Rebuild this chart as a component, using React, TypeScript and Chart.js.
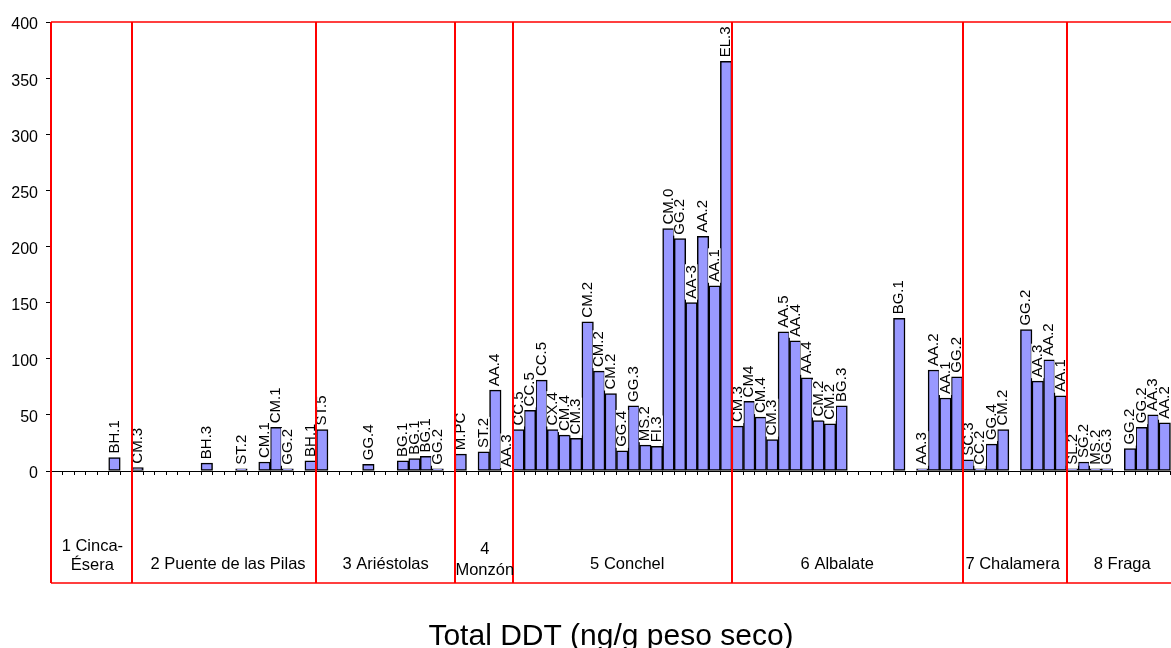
import React, { useEffect, useRef } from 'react';
import { Chart, registerables } from 'chart.js';

Chart.register(...registerables);

// ---- Data (one array pair per river section) ----
const S1_LABELS = ['', '', '', '', '', 'BH.1', ''];
const S1_VALUES = [null, null, null, null, null, 12, null];

const S2_LABELS = ['CM.3', '', '', '', '', '', 'BH.3', '', '', 'ST.2', '', 'CM.1', 'CM.1', 'GG.2', '', 'BH.1'];
const S2_VALUES = [3, null, null, null, null, null, 7, null, null, 2, null, 8, 39, 2, null, 9];

const S3_LABELS = ['ST.5', '', '', '', 'GG.4', '', '', 'BG.1', 'BG.1', 'BG.1', 'GG.2', ''];
const S3_VALUES = [37, null, null, null, 6, null, null, 9, 11, 13, 2, null];

const S4_LABELS = ['M.PC', '', 'ST.2', 'AA.4', 'AA.3'];
const S4_VALUES = [15, null, 17, 72, 0];

const S5_LABELS = ['CC.5', 'CC.5', 'CC.5', 'CX.4', 'CM.4', 'CM.3', 'CM.2', 'CM.2', 'CM.2', 'GG.4', 'GG.3', 'MS.2', 'FI.3', 'CM.0', 'GG.2', 'AA-3', 'AA.2', 'AA.1', 'EL.3'];
const S5_VALUES = [37, 54, 81, 37, 32, 29, 133, 89, 69, 18, 58, 23, 22, 216, 207, 150, 209, 165, 365];

const S6_LABELS = ['CM.3', 'CM4', 'CM.4', 'CM.3', 'AA.5', 'AA.4', 'AA.4', 'CM.2', 'CM.2', 'BG.3', '', '', '', '', 'BG.1', '', 'AA.3', 'AA.2', 'AA.1', 'GG.2'];
const S6_VALUES = [40, 62, 48, 28, 124, 116, 83, 45, 42, 58, null, null, null, null, 136, null, 2, 90, 65, 84];

const S7_LABELS = ['SC.3', 'CC.2', 'GG.4', 'CM.2', '', 'GG.2', 'AA.3', 'AA.2', 'AA.1'];
const S7_VALUES = [10, 2, 24, 37, null, 126, 80, 99, 67];

const S8_LABELS = ['SL.2', 'SG.2', 'MS.2', 'GG.3', '', 'GG.2', 'GG.2', 'AA.3', 'AA.2', ''];
const S8_VALUES = [2, 8, 2, 2, null, 20, 39, 50, 43, null];

const SECTION_NAMES = [
  ['1 Cinca-', 'Ésera'],
  ['2 Puente de las Pilas'],
  ['3 Ariéstolas'],
  ['4', 'Monzón'],
  ['5 Conchel'],
  ['6 Albalate'],
  ['7 Chalamera'],
  ['8 Fraga'],
];

const Y_MIN = 0;
const Y_MAX = 400;
const Y_STEP = 50;
const AXIS_TITLE = 'Total DDT (ng/g peso seco)';

// ---- Derived tables ----
const SECTION_LABELS = [S1_LABELS, S2_LABELS, S3_LABELS, S4_LABELS, S5_LABELS, S6_LABELS, S7_LABELS, S8_LABELS];
const SECTION_VALUES = [S1_VALUES, S2_VALUES, S3_VALUES, S4_VALUES, S5_VALUES, S6_VALUES, S7_VALUES, S8_VALUES];
const CATEGORIES: string[] = ([] as string[]).concat(...SECTION_LABELS);
const VALUES: (number | null)[] = ([] as (number | null)[]).concat(...SECTION_VALUES);
const SECTION_BOUNDS: number[] = [0];
SECTION_LABELS.forEach((s) => SECTION_BOUNDS.push(SECTION_BOUNDS[SECTION_BOUNDS.length - 1] + s.length));

// layout / style (not data)
const FONT = "'Liberation Sans', Arial, Helvetica, sans-serif";
const VISIBLE_W = 1171;
const CANVAS_W = 1200;
const CANVAS_H = 648;
const LABEL_NUDGE = [1, 4, 0, 1, 5, -10, -2, -2];

export default function App() {
  const ref = useRef<HTMLCanvasElement | null>(null);

  useEffect(() => {
    const canvas = ref.current;
    if (!canvas) return;

    const overlay = {
      id: 'overlay',
      afterDatasetsDraw(chart: any) {
        const ctx = chart.ctx as CanvasRenderingContext2D;
        const xs = chart.scales.x;
        const ys = chart.scales.y;
        ctx.save();
        ctx.font = `15px ${FONT}`;
        ctx.textAlign = 'left';
        ctx.textBaseline = 'middle';
        VALUES.forEach((v, i) => {
          const lab = CATEGORIES[i];
          if (v === null || v === undefined || !lab) return;
          const x = xs.getPixelForValue(i);
          const y = ys.getPixelForValue(v);
          ctx.save();
          ctx.translate(x, y - 4);
          ctx.rotate(-Math.PI / 2);
          const tw = ctx.measureText(lab).width;
          ctx.fillStyle = '#ffffff';
          ctx.fillRect(-1, -6.5, tw + 2, 12.5);
          ctx.fillStyle = '#000000';
          ctx.fillText(lab, 0, 0);
          ctx.restore();
        });
        ctx.restore();
      },
      afterDraw(chart: any) {
        const ctx = chart.ctx as CanvasRenderingContext2D;
        const xs = chart.scales.x;
        const area = chart.chartArea;
        const step = xs.getPixelForValue(1) - xs.getPixelForValue(0);
        const bx = (i: number) => xs.getPixelForValue(i) - step / 2;
        const top = area.top;
        const bottom = area.bottom + 112;

        ctx.save();
        ctx.strokeStyle = '#ff0000';
        ctx.lineWidth = 1.5;
        ctx.beginPath();
        ctx.moveTo(bx(0), top);
        ctx.lineTo(bx(CATEGORIES.length), top);
        ctx.moveTo(bx(0), bottom);
        ctx.lineTo(bx(CATEGORIES.length), bottom);
        ctx.stroke();
        ctx.lineWidth = 2;
        ctx.beginPath();
        SECTION_BOUNDS.forEach((b) => {
          const x = Math.round(bx(b));
          ctx.moveTo(x, top);
          ctx.lineTo(x, bottom);
        });
        ctx.stroke();

        ctx.fillStyle = '#000';
        ctx.font = `16.5px ${FONT}`;
        ctx.textAlign = 'center';
        ctx.textBaseline = 'alphabetic';
        SECTION_NAMES.forEach((lines, s) => {
          const cx = (bx(SECTION_BOUNDS[s]) + bx(SECTION_BOUNDS[s + 1])) / 2 + LABEL_NUDGE[s];
          if (lines.length === 1) {
            ctx.fillText(lines[0], cx, 569);
          } else if (s === 3) {
            ctx.fillText(lines[0], cx, 554);
            ctx.fillText(lines[1], cx, 575);
          } else {
            ctx.fillText(lines[0], cx, 551);
            ctx.fillText(lines[1], cx, 570);
          }
        });

        ctx.font = `30px ${FONT}`;
        ctx.fillText(AXIS_TITLE, (area.left + VISIBLE_W) / 2, 645);
        ctx.restore();
      },
    };

    const chart = new Chart(canvas, {
      type: 'bar',
      data: {
        labels: CATEGORIES,
        datasets: [
          {
            data: VALUES as any,
            backgroundColor: '#9999ff',
            borderColor: '#000000',
            borderWidth: 1.5,
            borderSkipped: false,
            categoryPercentage: 1,
            barPercentage: 1,
          },
        ],
      },
      options: {
        animation: false,
        responsive: false,
        maintainAspectRatio: false,
        devicePixelRatio: 1,
        layout: { padding: { top: 22, right: 18, bottom: 0, left: 0 } },
        plugins: {
          legend: { display: false },
          tooltip: { enabled: false },
          title: { display: false },
        },
        scales: {
          x: {
            type: 'category',
            offset: true,
            grid: {
              offset: true,
              drawOnChartArea: false,
              drawTicks: true,
              tickLength: 4,
              color: '#000000',
              lineWidth: 1,
            },
            border: { display: true, color: '#000000', width: 1 },
            ticks: { display: false },
            afterFit: (s: any) => {
              s.height = CANVAS_H - 471;
            },
          },
          y: {
            min: Y_MIN,
            max: Y_MAX,
            ticks: {
              stepSize: Y_STEP,
              color: '#000000',
              font: { family: FONT, size: 16 },
              padding: 8,
              labelOffset: 3,
            },
            grid: {
              drawOnChartArea: false,
              drawTicks: true,
              tickLength: 5,
              color: '#000000',
            },
            border: { display: true, color: '#000000', width: 1 },
            afterFit: (s: any) => {
              s.width = 51;
            },
          },
        },
      } as any,
      plugins: [overlay],
    });

    return () => {
      chart.destroy();
    };
  }, []);

  return (
    <div
      style={{
        position: 'fixed',
        left: 0,
        top: 0,
        width: VISIBLE_W,
        height: CANVAS_H,
        overflow: 'hidden',
        background: '#ffffff',
      }}
    >
      <canvas
        ref={ref}
        width={CANVAS_W}
        height={CANVAS_H}
        style={{ display: 'block', width: CANVAS_W, height: CANVAS_H }}
      />
    </div>
  );
}
